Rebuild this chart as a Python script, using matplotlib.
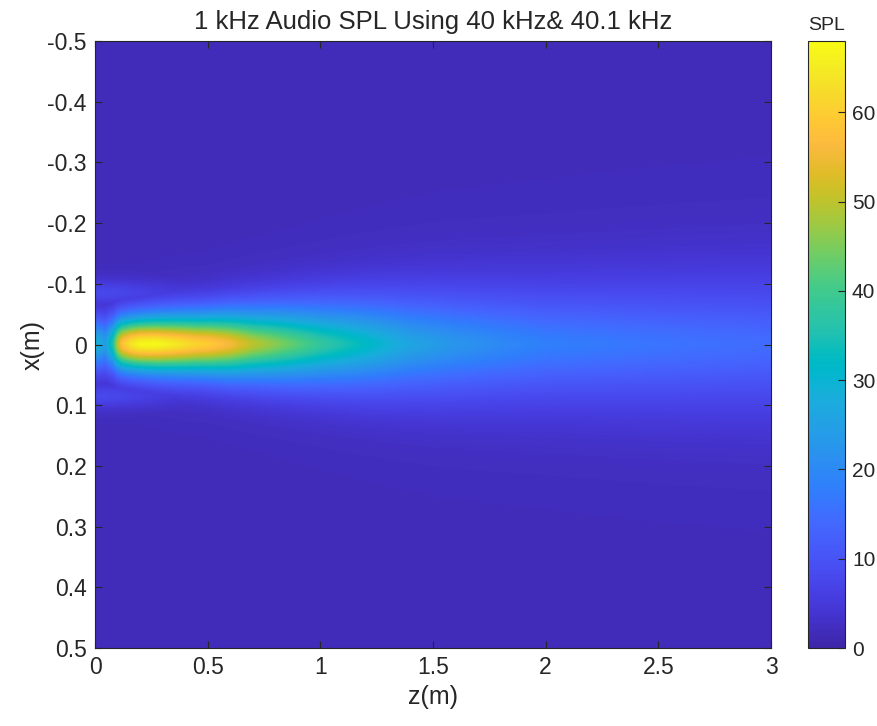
import numpy as np
import matplotlib
matplotlib.use("Agg")
import matplotlib.pyplot as plt
from matplotlib.colors import LinearSegmentedColormap

# ---- data ----
z_pts = [0.00, 0.02, 0.045, 0.08, 0.10, 0.12, 0.16, 0.20, 0.27, 0.35, 0.45, 0.50, 0.60, 0.70,
         0.80, 0.90, 1.00, 1.10, 1.20, 1.40, 1.60, 1.80, 2.00, 2.50, 3.00]
axis_spl = [29, 28, 24, 36, 50, 58, 64, 67, 67.5, 65, 61, 60, 56, 50,
            46, 42, 38, 35, 32, 26, 22.5, 20, 18, 16, 14.5]
width_z = [0.00, 0.05, 0.10, 0.20, 0.30, 0.50, 0.70, 1.00, 1.50, 2.00, 2.50, 3.00]
beam_width = [0.042, 0.043, 0.043, 0.044, 0.046, 0.050, 0.056, 0.065, 0.080, 0.090, 0.098, 0.105]
beam_shape = [1.8, 1.8, 1.8, 1.75, 1.7, 1.7, 1.65, 1.6, 1.55, 1.55, 1.55, 1.55]
side_z = [0.00, 0.10, 0.20, 0.35, 0.50, 0.70]
side_spl = [8, 7.5, 6.5, 5, 3.5, 2]
side_x = 0.085
background_spl = 1.8
spl_max = 68
cbar_ticks = [0, 10, 20, 30, 40, 50, 60]
x_ticks = [-0.5, -0.4, -0.3, -0.2, -0.1, 0, 0.1, 0.2, 0.3, 0.4, 0.5]
z_ticks = [0, 0.5, 1, 1.5, 2, 2.5, 3]

# MATLAB parula (R2014b) colormap
parula = [
[0.2422,0.1504,0.6603],[0.2504,0.1650,0.7076],[0.2578,0.1818,0.7511],[0.2647,0.1978,0.7952],
[0.2706,0.2147,0.8364],[0.2751,0.2342,0.8710],[0.2783,0.2559,0.8991],[0.2803,0.2782,0.9221],
[0.2813,0.3006,0.9414],[0.2810,0.3228,0.9579],[0.2795,0.3447,0.9717],[0.2760,0.3667,0.9829],
[0.2699,0.3892,0.9906],[0.2602,0.4123,0.9952],[0.2440,0.4358,0.9988],[0.2206,0.4603,0.9973],
[0.1963,0.4847,0.9892],[0.1834,0.5074,0.9798],[0.1786,0.5289,0.9682],[0.1764,0.5499,0.9520],
[0.1687,0.5703,0.9359],[0.1540,0.5902,0.9218],[0.1460,0.6091,0.9079],[0.1380,0.6276,0.8973],
[0.1248,0.6459,0.8883],[0.1113,0.6635,0.8763],[0.0952,0.6798,0.8598],[0.0689,0.6948,0.8394],
[0.0297,0.7082,0.8163],[0.0036,0.7203,0.7917],[0.0067,0.7312,0.7660],[0.0433,0.7411,0.7394],
[0.0964,0.7500,0.7120],[0.1408,0.7584,0.6842],[0.1717,0.7670,0.6554],[0.1938,0.7758,0.6251],
[0.2161,0.7843,0.5923],[0.2470,0.7918,0.5567],[0.2906,0.7973,0.5188],[0.3406,0.8008,0.4789],
[0.3909,0.8029,0.4354],[0.4456,0.8024,0.3909],[0.5044,0.7993,0.3480],[0.5616,0.7942,0.3045],
[0.6174,0.7876,0.2612],[0.6720,0.7793,0.2227],[0.7242,0.7698,0.1910],[0.7738,0.7598,0.1646],
[0.8203,0.7498,0.1535],[0.8634,0.7406,0.1596],[0.9035,0.7330,0.1774],[0.9393,0.7288,0.2100],
[0.9728,0.7298,0.2394],[0.9956,0.7434,0.2371],[0.9970,0.7659,0.2199],[0.9952,0.7893,0.2028],
[0.9892,0.8136,0.1885],[0.9786,0.8386,0.1766],[0.9676,0.8639,0.1643],[0.9610,0.8890,0.1537],
[0.9597,0.9135,0.1423],[0.9628,0.9373,0.1265],[0.9691,0.9606,0.1064],[0.9769,0.9839,0.0805]]
cmap = LinearSegmentedColormap.from_list("parula", parula, N=256)

# ---- build field from the read profiles ----
z = np.linspace(0, 3, 601)
x = np.linspace(-0.5, 0.5, 801)
A = np.interp(z, z_pts, axis_spl)
W = np.interp(z, width_z, beam_width)
P = np.interp(z, width_z, beam_shape)
S = np.interp(z, side_z, side_spl)
Z, X = np.meshgrid(z, x)
main = background_spl + (A[None, :] - background_spl) * np.exp(-(np.abs(X) / W[None, :]) ** P[None, :])
side = background_spl + (S[None, :] - background_spl) * np.exp(-((np.abs(X) - side_x) / 0.022) ** 2)
field = np.maximum(main, side)

plt.rcParams['font.family'] = ['Liberation Sans', 'DejaVu Sans']
txt = (0.15, 0.15, 0.15)

fig = plt.figure(figsize=(8.77, 7.26), dpi=100)
ax = fig.add_axes([95/877, 1-648/726, (771-95)/877, (648-41)/726])
im = ax.pcolormesh(z, x, field, cmap=cmap, vmin=0, vmax=spl_max, shading='gouraud')
ax.set_xlim(0, 3)
ax.set_ylim(0.5, -0.5)
ax.set_xticks(z_ticks)
ax.set_xticklabels([f"{t:g}" for t in z_ticks])
ax.set_yticks(x_ticks)
ax.set_yticklabels([f"{t:g}" for t in x_ticks])
ax.tick_params(direction='in', top=True, right=True, length=5, width=0.8,
               colors=txt, labelsize=16.5, pad=6)
for s in ax.spines.values():
    s.set_color(txt)
    s.set_linewidth(0.8)
ax.set_xlabel('z(m)', fontsize=18, color=txt, labelpad=4)
ax.set_ylabel('x(m)', fontsize=18, color=txt, labelpad=2)
ax.set_title('1 kHz Audio SPL Using 40 kHz& 40.1 kHz', fontsize=18.5, color=txt, pad=9)

cax = fig.add_axes([808/877, 1-648/726, 37/877, (648-41)/726])
cb = fig.colorbar(im, cax=cax, ticks=cbar_ticks)
cb.outline.set_edgecolor(txt)
cb.outline.set_linewidth(0.8)
cax.tick_params(direction='in', length=5, width=0.8, colors=txt, labelsize=15, pad=5)
cax.set_title('SPL', fontsize=14, color=txt, pad=8)

fig.savefig('out.png', dpi=100)
